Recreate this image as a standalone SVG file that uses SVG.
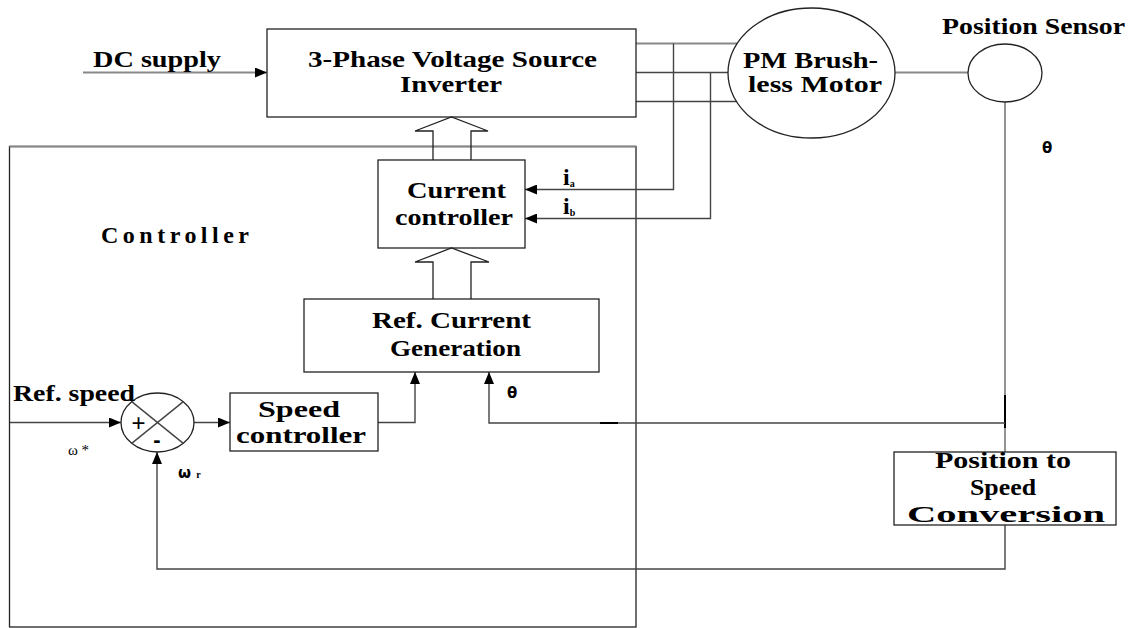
<svg xmlns="http://www.w3.org/2000/svg" width="1135" height="628" viewBox="0 0 1135 628">
<defs>
<style>
.box{fill:none;stroke:#222;stroke-width:1.3}
.ln{fill:none;stroke:#444;stroke-width:1.4}
.lg{fill:none;stroke:#888;stroke-width:1.8}
.t{font-family:"Liberation Serif","Times New Roman",serif;font-weight:bold;font-size:24px;fill:#000}
.s{font-family:"DejaVu Sans","Liberation Sans",sans-serif;font-weight:bold;fill:#000}
</style>
<marker id="ah" viewBox="0 0 12 10" refX="12" refY="5" markerWidth="12" markerHeight="10" markerUnits="userSpaceOnUse" orient="auto">
<path d="M0,0 L12,5 L0,10 Z" fill="#000"/>
</marker>
</defs>
<rect width="1135" height="628" fill="#fff"/>

<g id="controller-frame">
<rect class="box" x="9.5" y="146.5" width="626.5" height="480.5"/>
<line x1="9.5" y1="146.5" x2="636" y2="146.5" stroke="#888" stroke-width="1.8"/>
<text class="t" x="101" y="243" font-size="22" textLength="148" lengthAdjust="spacing">Controller</text>
</g>

<g id="connectors">
<line class="lg" x1="83" y1="72.5" x2="267" y2="72.5" marker-end="url(#ah)"/>
<line class="lg" x1="636" y1="43.5" x2="737" y2="43.5"/>
<line class="ln" x1="636" y1="72.5" x2="728" y2="72.5"/>
<line class="ln" x1="636" y1="101.5" x2="736.5" y2="101.5"/>
<polyline class="ln" points="673.5,43.5 673.5,189.5 525,189.5" marker-end="url(#ah)"/>
<polyline class="ln" points="710.5,72.5 710.5,218.5 525,218.5" marker-end="url(#ah)"/>
<line class="lg" x1="895" y1="72.5" x2="968" y2="72.5"/>
<line class="lg" x1="1005" y1="102" x2="1005" y2="452"/>
<line x1="1005" y1="395" x2="1005" y2="428" stroke="#000" stroke-width="2"/>
<polyline class="ln" points="1005,525 1005,569 157,569 157,452" marker-end="url(#ah)"/>
<polyline class="ln" points="1005,423 489,423 489,372" marker-end="url(#ah)"/>
<line x1="600" y1="423" x2="618" y2="423" stroke="#000" stroke-width="2"/>
<polyline class="ln" points="378,422.5 415,422.5 415,372" marker-end="url(#ah)"/>
<line class="ln" x1="10" y1="422.5" x2="121" y2="422.5" marker-end="url(#ah)"/>
<line class="ln" x1="194" y1="422.5" x2="230" y2="422.5" marker-end="url(#ah)"/>
<path class="box" d="M433,160 V131 H415 L451.5,117 L488,131 H471 V160"/>
<path class="box" d="M433,299 V262 H415 L451.5,248 L489,262 H471 V299"/>
</g>

<g id="dc-supply">
<text class="t" x="93" y="67" textLength="128" lengthAdjust="spacingAndGlyphs">DC supply</text>
</g>

<g id="inverter">
<rect class="box" x="267" y="29" width="369" height="88"/>
<text class="t" x="308" y="67" textLength="289" lengthAdjust="spacingAndGlyphs">3-Phase Voltage Source</text>
<text class="t" x="400" y="92" textLength="102" lengthAdjust="spacingAndGlyphs">Inverter</text>
</g>

<g id="motor">
<ellipse class="box" cx="811.5" cy="73" rx="83.5" ry="65"/>
<text class="t" x="743" y="68" textLength="135" lengthAdjust="spacingAndGlyphs">PM Brush-</text>
<text class="t" x="748" y="92" textLength="134" lengthAdjust="spacingAndGlyphs">less Motor</text>
</g>

<g id="position-sensor">
<ellipse class="box" cx="1005" cy="73" rx="37" ry="29"/>
<text class="t" x="942" y="34" textLength="183" lengthAdjust="spacingAndGlyphs">Position Sensor</text>
<text class="s" x="1042" y="153" font-size="15">θ</text>
</g>

<g id="current-controller">
<rect class="box" x="378" y="160" width="147" height="88"/>
<text class="t" x="407" y="198" textLength="99" lengthAdjust="spacingAndGlyphs">Current</text>
<text class="t" x="395" y="225" textLength="118" lengthAdjust="spacingAndGlyphs">controller</text>
<text class="t" x="563" y="185" font-size="14">i<tspan font-size="10" dy="2">a</tspan></text>
<text class="t" x="563" y="214" font-size="14">i<tspan font-size="10" dy="2">b</tspan></text>
</g>

<g id="ref-current">
<rect class="box" x="304" y="299" width="295" height="73"/>
<text class="t" x="372" y="328" textLength="159" lengthAdjust="spacingAndGlyphs">Ref. Current</text>
<text class="t" x="390" y="356" textLength="131" lengthAdjust="spacingAndGlyphs">Generation</text>
<text class="s" x="507" y="398" font-size="15">θ</text>
</g>

<g id="summing">
<ellipse class="box" cx="157.5" cy="422.5" rx="36.5" ry="29.5"/>
<line class="ln" x1="131.7" y1="401.6" x2="183.3" y2="443.4"/>
<line class="ln" x1="131.7" y1="443.4" x2="183.3" y2="401.6"/>
<text x="138.5" y="431" font-family="Liberation Sans, sans-serif" font-size="24" text-anchor="middle" fill="#000">+</text>
<text x="157" y="447" font-family="Liberation Sans, sans-serif" font-weight="bold" font-size="22" text-anchor="middle" fill="#000">-</text>
<text class="t" x="13" y="401" textLength="122" lengthAdjust="spacingAndGlyphs">Ref. speed</text>
<text x="68" y="455" font-family="Liberation Serif, serif" font-size="15" fill="#000">ω *</text>
<text class="s" x="178" y="478" font-size="15">ω <tspan font-family="Liberation Serif, serif" font-size="10">r</tspan></text>
</g>

<g id="speed-controller">
<rect class="box" x="230" y="393" width="148" height="58"/>
<text class="t" x="258" y="417" textLength="82" lengthAdjust="spacingAndGlyphs">Speed</text>
<text class="t" x="236" y="443" textLength="130" lengthAdjust="spacingAndGlyphs">controller</text>
</g>

<g id="pos-to-speed">
<rect class="box" x="894" y="452" width="222" height="73"/>
<text class="t" x="935" y="468" textLength="136" lengthAdjust="spacingAndGlyphs">Position to</text>
<text class="t" x="970" y="495" textLength="66" lengthAdjust="spacingAndGlyphs">Speed</text>
<text class="t" x="907" y="522" font-size="25" textLength="198" lengthAdjust="spacingAndGlyphs">Conversion</text>
</g>
</svg>
